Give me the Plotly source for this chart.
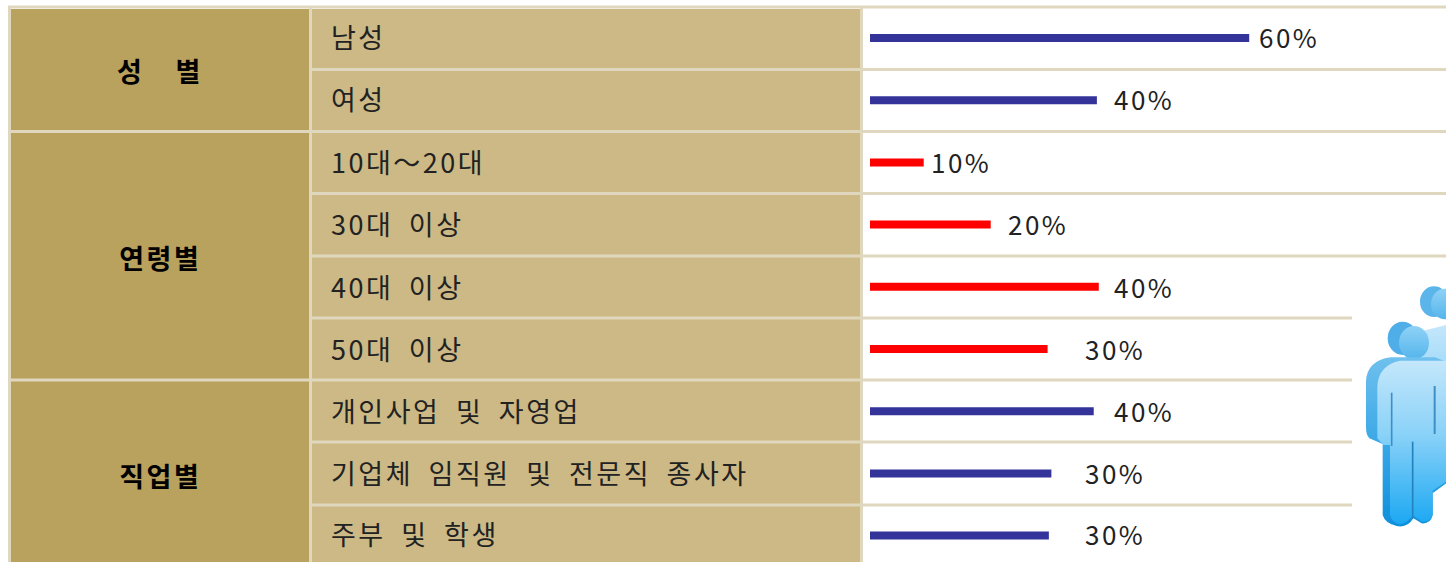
import base64
import plotly.graph_objects as go

W, H = 1446, 562

# Data
categories = ["남성", "여성", "10대～20대", "30대 이상", "40대 이상", "50대 이상",
              "개인사업 및 자영업", "기업체 임직원 및 전문직 종사자", "주부 및 학생"]
percent_labels = ["60%", "40%", "10%", "20%", "40%", "30%", "40%", "30%", "30%"]
# drawn bar lengths (the picture's bars are not exactly proportional to their labels)
bar_lengths = [60.0, 35.9, 8.5, 19.1, 36.2, 28.1, 35.4, 28.7, 28.3]
bar_colors = ["#333399", "#333399", "#FF0000", "#FF0000", "#FF0000", "#FF0000",
              "#333399", "#333399", "#333399"]
groups = ["성  별", "연령별", "직업별"]

# Layout (pixels)
row_lines = [7, 69.5, 131.5, 193.5, 256, 318, 380, 442, 505]
row_centers = [36, 98, 161, 223, 286, 348, 410, 472, 533]
label_x = [1259, 1114, 931, 1008, 1114, 1085, 1114, 1085, 1085]
group_y = [71, 257, 475]
PX_PER_UNIT = 6.32
ZERO_PX = 870
ROW_H = 62.2
ROW0 = 38

C_DARK, C_LIGHT, C_LINE = "#B9A15E", "#CCB985", "#E0D8BE"


def px(x):
    return x / W


def py(y):
    return 1 - y / H


def rect(x0, y0, x1, y1, color):
    return dict(type="rect", xref="paper", yref="paper", x0=px(x0), x1=px(x1),
                y0=py(y0), y1=py(y1), fillcolor=color, line_width=0, layer="below")


shapes = [rect(11, 9, 309, 562, C_DARK), rect(312, 9, 860, 562, C_LIGHT),
          rect(8, 6, 11, 562, C_LINE), rect(309, 6, 312, 562, C_LINE),
          rect(860, 6, 863, 562, C_LINE)]
for y in row_lines:
    right = 1352 if y >= 318 else W
    left = 8 if y in (7, 131.5, 380) else 309
    shapes.append(rect(left, y - 1.5, right, y + 1.5, C_LINE))

annotations = []
for name, y in zip(groups, group_y):
    annotations.append(dict(x=px(160), y=py(y), xref="paper", yref="paper", text=f"<b>{name}</b>",
                            showarrow=False, xanchor="center", yanchor="middle",
                            font=dict(size=27, color="#000000", family="Noto Sans CJK KR")))
for name, y, lab, lx in zip(categories, row_centers, percent_labels, label_x):
    annotations.append(dict(x=px(331), y=py(y), xref="paper", yref="paper", text=name,
                            showarrow=False, xanchor="left", yanchor="middle",
                            font=dict(size=27, color="#222222", family="Noto Sans CJK KR")))
    annotations.append(dict(x=px(lx), y=py(y), xref="paper", yref="paper", text=lab,
                            showarrow=False, xanchor="left", yanchor="middle",
                            font=dict(size=26, color="#222222", family="Noto Sans CJK KR")))

icon_svg = """<svg xmlns="http://www.w3.org/2000/svg" viewBox="0 0 438 876" width="438" height="876">
<defs>
<linearGradient id="a" x1="0" y1="0" x2="0" y2="1"><stop offset="0" stop-color="#C4E7FB"/><stop offset="0.45" stop-color="#8AD2F8"/><stop offset="1" stop-color="#1CA8F2"/></linearGradient>
<linearGradient id="b" x1="0" y1="0" x2="0" y2="1"><stop offset="0" stop-color="#6FC0EE"/><stop offset="0.5" stop-color="#3AA8E6"/><stop offset="1" stop-color="#0F8FDC"/></linearGradient>
<linearGradient id="c" x1="0" y1="0" x2="0" y2="1"><stop offset="0" stop-color="#8FD2F6"/><stop offset="1" stop-color="#55B5EC"/></linearGradient>
<filter id="s"><feGaussianBlur stdDeviation="1.5"/></filter>
</defs>
<g filter="url(#s)">
<ellipse cx="402" cy="95" rx="42" ry="46" fill="#5BB5EA"/>
<ellipse cx="435" cy="102" rx="42" ry="46" fill="url(#c)"/>
<path d="M370 182 L438 165 L438 640 L400 668 L360 600 Z" fill="url(#a)"/>
<ellipse cx="308" cy="205" rx="45" ry="50" fill="#4FAEE8"/>
<ellipse cx="342" cy="218" rx="45" ry="50" fill="url(#c)"/>
<path d="M198 335 Q200 272 272 262 L405 262 L438 275 L438 640 L398 668 L398 735 Q392 762 365 760 L340 745 Q322 775 290 768 Q255 760 248 735 L248 522 L208 505 Q198 495 198 470 Z" fill="url(#b)"/>
<path d="M232 348 Q236 285 300 272 L438 272 L438 635 L398 662 L398 735 Q390 758 366 755 L342 738 L330 745 Q315 765 295 762 Q275 755 270 735 L270 525 L250 525 L232 505 Z" fill="url(#a)"/>
<path d="M275 368 L275 528" stroke="#3C8FC6" stroke-width="5"/>
<path d="M338 515 L338 745" stroke="#2283BE" stroke-width="5"/>
<path d="M404 348 L404 492" stroke="#3C8FC6" stroke-width="6"/>
</g>
</svg>"""
icon_src = "data:image/svg+xml;base64," + base64.b64encode(icon_svg.encode()).decode()

fig = go.Figure(go.Bar(
    x=bar_lengths, y=categories, orientation="h",
    marker=dict(color=bar_colors, line_width=0),
    width=8 / ROW_H, hoverinfo="skip",
))
fig.update_layout(
    width=W, height=H, margin=dict(l=0, r=0, t=0, b=0), autosize=False,
    paper_bgcolor="#FFFFFF", plot_bgcolor="rgba(0,0,0,0)", showlegend=False,
    xaxis=dict(domain=[px(ZERO_PX), 1], range=[0, (W - ZERO_PX) / PX_PER_UNIT], visible=False),
    yaxis=dict(domain=[0, 1], type="category", categoryorder="array", categoryarray=categories,
               range=[(H - ROW0) / ROW_H, -ROW0 / ROW_H], visible=False),
    shapes=shapes, annotations=annotations,
    images=[dict(source=icon_src, xref="paper", yref="paper", x=px(1300), y=py(270),
                 sizex=146 / W, sizey=292 / H, sizing="stretch",
                 xanchor="left", yanchor="top", layer="above")],
)

# Body margin removal, wider letter spacing, then re-anchor left-aligned labels
# (plotly measured them before the spacing was applied).
post = """
var st=document.createElement('style');
st.textContent='html,body{margin:0;padding:0;overflow:hidden;background:#fff}.annotation-text{letter-spacing:2.5px;word-spacing:7px}';
document.head.appendChild(st);
var gd=document.querySelector('.plotly-graph-div');
gd.querySelectorAll('.annotation').forEach(function(n){
  var a=gd.layout.annotations[+n.getAttribute('data-index')];
  if(!a||a.xanchor!=='left')return;
  var t=n.querySelector('.annotation-text');
  var shift=a.x*1446-t.getBoundingClientRect().left;
  t.setAttribute('x',parseFloat(t.getAttribute('x'))+shift);
});
"""
fig.write_html("out.html", post_script=post, config={"displayModeBar": False})
